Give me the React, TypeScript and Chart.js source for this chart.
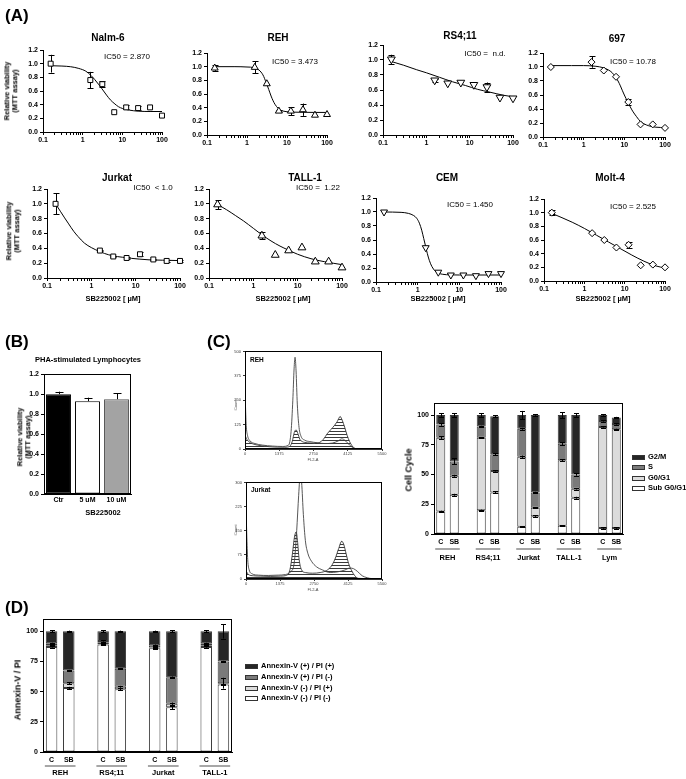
import React, { useEffect, useRef } from 'react';
import { Chart, registerables } from 'chart.js';
Chart.register(...registerables);

const FONT = '"Liberation Sans", Arial, Helvetica, sans-serif';

// ---------------- Panel A data ----------------
const doses = [0.156, 1.56, 3.125, 6.25, 12.5, 25, 50, 100];
const logTickValues = [0.1, 0.2, 0.3, 0.4, 0.5, 0.6, 0.7, 0.8, 0.9, 1, 2, 3, 4, 5, 6, 7, 8, 9, 10, 20, 30, 40, 50, 60, 70, 80, 90, 100];
const viabilityTicks = [0, 0.2, 0.4, 0.6, 0.8, 1.0, 1.2];

const nalm6Values = [1.0, 0.76, 0.70, 0.29, 0.36, 0.35, 0.36, 0.24];
const nalm6Errors = [0.13, 0.12, 0.04, 0, 0.03, 0.03, 0, 0];
const nalm6CurveX = [0.156, 0.3, 0.5, 0.8, 1.2, 1.6, 2, 2.5, 3, 4, 5, 6.5, 8, 10, 15, 25, 50, 100];
const nalm6CurveY = [0.97, 0.965, 0.955, 0.93, 0.89, 0.83, 0.77, 0.70, 0.64, 0.54, 0.47, 0.41, 0.37, 0.345, 0.32, 0.305, 0.30, 0.30];

const rehValues = [0.98, 0.99, 0.75, 0.35, 0.35, 0.37, 0.29, 0.30];
const rehErrors = [0.04, 0.09, 0, 0.02, 0.06, 0.09, 0, 0];
const rehCurveX = [0.156, 0.5, 1, 1.5, 2, 2.5, 3, 3.5, 4, 4.5, 5, 6, 7, 8, 10, 20, 100];
const rehCurveY = [1.0, 1.0, 0.995, 0.985, 0.95, 0.88, 0.77, 0.665, 0.57, 0.50, 0.45, 0.39, 0.36, 0.35, 0.34, 0.333, 0.33];

const rs411Values = [1.01, 0.73, 0.69, 0.70, 0.67, 0.64, 0.50, 0.49];
const rs411Errors = [0.06, 0.02, 0, 0, 0, 0.06, 0, 0];
const rs411CurveX = [0.156, 0.3, 0.6, 1, 2, 4, 8, 15, 30, 60, 100];
const rs411CurveY = [0.98, 0.93, 0.87, 0.83, 0.77, 0.71, 0.66, 0.61, 0.57, 0.53, 0.51];

const c697Values = [1.0, 1.07, 0.95, 0.86, 0.50, 0.18, 0.18, 0.13];
const c697Errors = [0, 0.08, 0, 0, 0.04, 0, 0, 0];
const c697CurveX = [0.156, 0.5, 1, 2, 3, 4, 5, 6, 7, 8, 9, 10, 11, 12.5, 14, 16, 20, 25, 30, 40, 60, 100];
const c697CurveY = [1.02, 1.02, 1.02, 1.01, 0.99, 0.96, 0.92, 0.86, 0.80, 0.73, 0.66, 0.60, 0.55, 0.49, 0.43, 0.37, 0.29, 0.22, 0.19, 0.16, 0.14, 0.135];

const jurkatValues = [1.0, 0.37, 0.29, 0.27, 0.32, 0.25, 0.23, 0.23];
const jurkatErrors = [0.14, 0.01, 0.01, 0.01, 0.03, 0.01, 0.01, 0.01];
const jurkatCurveX = [0.156, 0.2, 0.25, 0.3, 0.4, 0.5, 0.7, 1, 1.5, 2, 3, 5, 8, 12, 20, 40, 100];
const jurkatCurveY = [1.0, 0.90, 0.81, 0.74, 0.63, 0.56, 0.47, 0.41, 0.36, 0.33, 0.30, 0.28, 0.265, 0.255, 0.245, 0.24, 0.235];

const tall1Values = [0.99, 0.57, 0.31, 0.37, 0.41, 0.22, 0.22, 0.14];
const tall1Errors = [0.06, 0.05, 0, 0, 0, 0, 0, 0];
const tall1CurveX = [0.156, 0.25, 0.4, 0.6, 1, 1.5, 2.5, 4, 6, 10, 20, 40, 100];
const tall1CurveY = [0.99, 0.92, 0.84, 0.77, 0.67, 0.59, 0.50, 0.43, 0.38, 0.32, 0.26, 0.22, 0.18];

const cemValues = [1.0, 0.49, 0.14, 0.10, 0.10, 0.09, 0.12, 0.12];
const cemErrors = [0, 0, 0, 0, 0, 0, 0, 0];
const cemCurveX = [0.156, 0.4, 0.6, 0.8, 0.95, 1.1, 1.25, 1.4, 1.55, 1.7, 1.9, 2.2, 2.6, 3.2, 4, 6, 10, 100];
const cemCurveY = [1.0, 0.995, 0.98, 0.95, 0.91, 0.84, 0.74, 0.62, 0.51, 0.41, 0.31, 0.22, 0.16, 0.125, 0.11, 0.102, 0.10, 0.10];

const molt4Values = [1.0, 0.70, 0.60, 0.49, 0.53, 0.23, 0.24, 0.20];
const molt4Errors = [0.04, 0, 0, 0, 0.04, 0, 0, 0];
const molt4CurveX = [0.156, 0.5, 1, 2, 4, 8, 15, 30, 60, 100];
const molt4CurveY = [0.99, 0.86, 0.77, 0.67, 0.57, 0.47, 0.38, 0.29, 0.22, 0.19];

// ---------------- Panel B data ----------------
const phaLabels = ['Ctr', '5 uM', '10 uM'];
const phaValues = [1.0, 0.93, 0.95];
const phaErrors = [0.025, 0.035, 0.06];

// ---------------- Panel C histograms ----------------
const histXTicks = [0, 1375, 2750, 4125, 5500];
const rehCountTicks = [0, 125, 250, 375, 500];
const jurkatCountTicks = [0, 75, 150, 225, 300];

const rehCtrlX = [0, 50, 150, 300, 500, 800, 1200, 1600, 1800, 1900, 1980, 2050, 2120, 2200, 2300, 2500, 2800, 3000, 3150, 3300, 3450, 3600, 3700, 3820, 3900, 4000, 4100, 4200, 4300, 4400, 4600, 5500];
const rehCtrlY = [73, 55, 38, 27, 20, 14, 10, 9, 14, 40, 85, 98, 80, 50, 38, 32, 30, 34, 50, 78, 100, 122, 140, 166, 148, 112, 70, 38, 16, 4, 0, 0];
const rehTrtX = [0, 20, 50, 100, 200, 400, 700, 1100, 1500, 1750, 1850, 1920, 1970, 2010, 2050, 2100, 2170, 2250, 2400, 2600, 2900, 3200, 3500, 3750, 3880, 3950, 4050, 4200, 4350, 4500, 5500];
const rehTrtY = [320, 220, 120, 70, 42, 28, 20, 15, 13, 20, 90, 250, 410, 470, 400, 230, 110, 65, 45, 38, 32, 28, 30, 42, 52, 50, 40, 20, 6, 0, 0];

const jurCtrlX = [0, 100, 300, 600, 1000, 1400, 1650, 1780, 1880, 1960, 2030, 2080, 2150, 2250, 2400, 2700, 3000, 3250, 3450, 3600, 3750, 3870, 3950, 4050, 4150, 4280, 4400, 4550, 5500];
const jurCtrlY = [25, 14, 10, 9, 8, 9, 12, 30, 80, 130, 146, 120, 60, 28, 20, 18, 20, 26, 40, 62, 95, 117, 108, 78, 48, 25, 10, 2, 0];
const jurTrtX = [0, 30, 70, 130, 250, 500, 900, 1300, 1600, 1800, 1950, 2050, 2130, 2200, 2250, 2320, 2400, 2500, 2650, 2850, 3100, 3400, 3700, 4000, 4200, 4350, 4500, 4700, 4900, 5100, 5500];
const jurTrtY = [230, 140, 60, 28, 16, 12, 11, 12, 14, 22, 50, 150, 260, 330, 300, 200, 120, 80, 55, 38, 28, 20, 22, 28, 34, 32, 24, 10, 4, 1, 0];

// ---------------- Panel C cell cycle ----------------
const cellCycleSlots = ['C', 'SB', '', 'C', 'SB', '', 'C', 'SB', '', 'C', 'SB', '', 'C', 'SB'];
const cellCycleGroups = ['REH', 'RS4;11', 'Jurkat', 'TALL-1', 'Lym'];
const cellCycleTicks = [0, 25, 50, 75, 100];
const subG0G1 = [19, 33, null, 20, 35, null, 6, 15, null, 7, 30.5, null, 5, 5];
const g0G1 = [62, 16, null, 61, 18, null, 59, 7, null, 55, 7.5, null, 85, 83];
const sPhase = [11, 12, null, 9.5, 14, null, 23.5, 13, null, 14, 12, null, 5, 4.5];
const g2M = [8, 39, null, 9.5, 32, null, 11.5, 65, null, 24, 50, null, 5, 5.5];
const subG0G1Err = [0.6, 0.8, null, 0.5, 0.8, null, 0.5, 0.6, null, 0.5, 0.8, null, 0.6, 0.6];
const g0G1Err = [1, 0.8, null, 0.5, 0.5, null, 1, 0.5, null, 1, 0.6, null, 0.5, 0.5];
const sPhaseErr = [1, 2.5, null, 0.5, 0.8, null, 0.8, 0.5, null, 1.2, 1, null, 0.5, 0.5];
const g2MErr = [1.5, 1.5, null, 1.5, 0.8, null, 3.5, 0.6, null, 2.5, 1.5, null, 0.5, 0.5];

// ---------------- Panel D annexin ----------------
const annexinSlots = ['C', 'SB', '', 'C', 'SB', '', 'C', 'SB', '', 'C', 'SB'];
const annexinGroups = ['REH', 'RS4;11', 'Jurkat', 'TALL-1'];
const annexinTicks = [0, 25, 50, 75, 100];
const annNegPiNeg = [87, 53, null, 89, 52, null, 86, 37, null, 87, 56];
const annNegPiPos = [1.5, 4, null, 1.5, 2, null, 0.5, 3, null, 1.5, 1];
const annPosPiNeg = [1.5, 10.5, null, 1.5, 15, null, 2, 22, null, 1.5, 18];
const annPosPiPos = [10, 32.5, null, 8, 31, null, 11.5, 38, null, 10, 25];
const annNegPiNegErr = [0.5, 1, null, 0.5, 1, null, 0.5, 1.5, null, 0.5, 0.5];
const annNegPiPosErr = [0.5, 1, null, 0.5, 0.8, null, 0.3, 1, null, 0.5, 4.5];
const annPosPiNegErr = [0.5, 0.5, null, 0.5, 0.5, null, 0.5, 0.5, null, 0.5, 0.5];
const annPosPiPosErr = [1, 0.5, null, 1, 0.5, null, 0.5, 1, null, 0.8, 6];

// ---------------- helpers ----------------
type Box = { l: number; t: number; r: number; b: number };
type Margins = { ml: number; mt: number; mr: number; mb: number; pb?: number };

const tickFont = { family: FONT, size: 7, weight: 'bold' as const };

function makeErrorBars(phase: 'before' | 'after', cap: number, upOnly: boolean) {
  const draw = (chart: any) => {
    const ctx = chart.ctx;
    const ys = chart.scales.y;
    const ppu = Math.abs(ys.getPixelForValue(1) - ys.getPixelForValue(0));
    chart.data.datasets.forEach((ds: any, di: number) => {
      const errs = ds.errorBars;
      if (!errs) return;
      const meta = chart.getDatasetMeta(di);
      meta.data.forEach((el: any, i: number) => {
        const e = errs[i];
        if (!e || el.y == null || isNaN(el.y)) return;
        const x = Math.round(el.x) + 0.5;
        const y = el.y;
        const d = e * ppu;
        ctx.save();
        ctx.strokeStyle = '#000';
        ctx.lineWidth = 1;
        ctx.beginPath();
        ctx.moveTo(x, y - d);
        ctx.lineTo(x, upOnly ? y : y + d);
        ctx.moveTo(x - cap, Math.round(y - d) + 0.5);
        ctx.lineTo(x + cap, Math.round(y - d) + 0.5);
        if (!upOnly) {
          ctx.moveTo(x - cap, Math.round(y + d) + 0.5);
          ctx.lineTo(x + cap, Math.round(y + d) + 0.5);
        }
        ctx.stroke();
        ctx.restore();
      });
    });
  };
  return {
    id: 'errorBars' + phase,
    beforeDatasetsDraw(c: any) { if (phase === 'before') draw(c); },
    afterDatasetsDraw(c: any) { if (phase === 'after') draw(c); },
  };
}

const framePlugin = {
  id: 'frame',
  afterDraw(chart: any) {
    const { ctx, chartArea: a } = chart;
    ctx.save();
    ctx.strokeStyle = '#000';
    ctx.lineWidth = 1;
    const l = Math.round(a.left) + 0.5, t = Math.round(a.top) + 0.5;
    const r = Math.round(a.right) - 0.5, b = Math.round(a.bottom) - 0.5;
    ctx.strokeRect(l, t, r - l, b - t);
    ctx.restore();
  },
};

function groupPlugin(groups: string[], barPct: number, lineOff: number, textOff: number) {
  return {
    id: 'groups',
    afterDraw(chart: any) {
      const x = chart.scales.x;
      const ctx = chart.ctx;
      const a = chart.chartArea;
      const slot = x.getPixelForTick(1) - x.getPixelForTick(0);
      const bw = slot * barPct;
      groups.forEach((g, gi) => {
        const xl = x.getPixelForTick(gi * 3) - bw / 2 - 1;
        const xr = x.getPixelForTick(gi * 3 + 1) + bw / 2 + 1;
        ctx.save();
        ctx.strokeStyle = '#777';
        ctx.lineWidth = 1.3;
        ctx.beginPath();
        ctx.moveTo(xl, a.bottom + lineOff);
        ctx.lineTo(xr, a.bottom + lineOff);
        ctx.stroke();
        ctx.fillStyle = '#000';
        ctx.font = `bold 7.5px ${FONT}`;
        ctx.textAlign = 'center';
        ctx.textBaseline = 'middle';
        ctx.fillText(g, (xl + xr) / 2, a.bottom + textOff);
        ctx.restore();
      });
    },
  };
}

function baseOptions(m: Margins, scales: any) {
  return {
    responsive: false,
    maintainAspectRatio: false,
    animation: false,
    devicePixelRatio: 1,
    events: [],
    layout: { padding: { left: 0, top: m.mt, right: m.mr, bottom: m.pb || 0 } },
    plugins: { legend: { display: false }, tooltip: { enabled: false }, title: { display: false } },
    scales,
  };
}

function linY(tickVals: number[], min: number, max: number, width: number, fmt: (v: number) => string, stacked = false, font: any = tickFont, tickLen = 3, color = '#000') {
  return {
    type: 'linear',
    min, max, stacked,
    afterBuildTicks: (s: any) => { s.ticks = tickVals.map((v) => ({ value: v })); },
    afterFit: (s: any) => { s.width = width; },
    ticks: { font, color, padding: 2, callback: (v: any) => fmt(Number(v)) },
    grid: { drawOnChartArea: false, drawTicks: true, tickLength: tickLen, color },
    border: { display: true, color, width: 1 },
  };
}

const isPow10 = (v: number) => Math.abs(Math.log10(v) - Math.round(Math.log10(v))) < 1e-9;

function logX(height: number) {
  return {
    type: 'logarithmic',
    min: 0.1, max: 100,
    afterBuildTicks: (s: any) => { s.ticks = logTickValues.map((v) => ({ value: v, major: isPow10(v) })); },
    afterFit: (s: any) => { s.height = height; },
    ticks: { autoSkip: false, maxRotation: 0, minRotation: 0, font: tickFont, color: '#000', padding: 1, callback: (v: any) => (isPow10(Number(v)) ? String(Number(v)) : '') },
    grid: { drawOnChartArea: false, drawTicks: true, tickLength: 3, color: '#000' },
    border: { display: true, color: '#000', width: 1 },
  };
}

function ChartCanvas({ box, m, make }: { box: Box; m: Margins; make: (m: Margins) => any }) {
  const ref = useRef<HTMLCanvasElement>(null);
  const pb = m.pb || 0;
  const left = box.l - m.ml;
  const top = box.t - m.mt;
  const width = box.r - box.l + m.ml + m.mr;
  const height = box.b - box.t + m.mt + m.mb + pb;
  useEffect(() => {
    const chart = new Chart(ref.current as HTMLCanvasElement, make(m));
    return () => chart.destroy();
  }, []);
  return <canvas ref={ref} width={width} height={height} style={{ position: 'absolute', left, top, width, height }} />;
}

type DosePanel = {
  name: string; ic50: string; box: Box; values: number[]; errors: number[]; cx: number[]; cy: number[];
  marker: string; rot: number; r: number;
};

const doseMargins: Margins = { ml: 30, mt: 8, mr: 12, mb: 16 };

function doseConfig(p: DosePanel) {
  return (m: Margins) => ({
    type: 'scatter',
    data: {
      datasets: [
        {
          data: doses.map((d, i) => ({ x: d, y: p.values[i] })),
          showLine: false,
          pointStyle: p.marker,
          pointRotation: p.rot,
          pointRadius: p.r,
          pointBorderColor: '#000',
          pointBackgroundColor: '#fff',
          pointBorderWidth: 1,
          clip: 8,
          errorBars: p.errors,
        },
        {
          data: p.cx.map((x, i) => ({ x, y: p.cy[i] })),
          showLine: true,
          pointRadius: 0,
          borderColor: '#000',
          borderWidth: 1,
          cubicInterpolationMode: 'monotone',
          fill: false,
          clip: 4,
        },
      ],
    },
    options: baseOptions(m, {
      x: logX(m.mb),
      y: linY(viabilityTicks, 0, 1.2, m.ml, (v) => v.toFixed(1)),
    }),
    plugins: [makeErrorBars('before', 3, false)],
  });
}

const dosePanels: DosePanel[] = [
  { name: 'Nalm-6', ic50: 'IC50 = 2.870', box: { l: 43, t: 50, r: 162, b: 132 }, values: nalm6Values, errors: nalm6Errors, cx: nalm6CurveX, cy: nalm6CurveY, marker: 'rect', rot: 0, r: 3.5 },
  { name: 'REH', ic50: 'IC50 = 3.473', box: { l: 207, t: 53, r: 327, b: 135 }, values: rehValues, errors: rehErrors, cx: rehCurveX, cy: rehCurveY, marker: 'triangle', rot: 0, r: 4 },
  { name: 'RS4;11', ic50: 'IC50 =  n.d.', box: { l: 383, t: 45, r: 513, b: 135 }, values: rs411Values, errors: rs411Errors, cx: rs411CurveX, cy: rs411CurveY, marker: 'triangle', rot: 180, r: 4.5 },
  { name: '697', ic50: 'IC50 = 10.78', box: { l: 543, t: 53, r: 665, b: 137 }, values: c697Values, errors: c697Errors, cx: c697CurveX, cy: c697CurveY, marker: 'rectRot', rot: 0, r: 3.5 },
  { name: 'Jurkat', ic50: 'IC50  < 1.0', box: { l: 47, t: 189, r: 180, b: 278 }, values: jurkatValues, errors: jurkatErrors, cx: jurkatCurveX, cy: jurkatCurveY, marker: 'rect', rot: 0, r: 3.5 },
  { name: 'TALL-1', ic50: 'IC50 =  1.22', box: { l: 209, t: 189, r: 342, b: 278 }, values: tall1Values, errors: tall1Errors, cx: tall1CurveX, cy: tall1CurveY, marker: 'triangle', rot: 0, r: 4.5 },
  { name: 'CEM', ic50: 'IC50 = 1.450', box: { l: 376, t: 198, r: 501, b: 282 }, values: cemValues, errors: cemErrors, cx: cemCurveX, cy: cemCurveY, marker: 'triangle', rot: 180, r: 4 },
  { name: 'Molt-4', ic50: 'IC50 = 2.525', box: { l: 544, t: 199, r: 665, b: 281 }, values: molt4Values, errors: molt4Errors, cx: molt4CurveX, cy: molt4CurveY, marker: 'rectRot', rot: 0, r: 3.5 },
];

// title / IC50 text positions (centre points)
const doseTitlePos = [[108, 38], [278, 38], [460, 36], [617, 39], [117, 178], [305, 178], [447, 178], [610, 178]];
const doseIcPos = [[127, 57], [295, 62], [485, 54], [633, 62], [153, 188], [318, 188], [470, 205], [633, 207]];
const doseXTitlePos = [[113, 299], [283, 299], [438, 299], [603, 299]];

// ---- Panel B config ----
const phaBox: Box = { l: 44, t: 374, r: 131, b: 494 };
const phaMargins: Margins = { ml: 28, mt: 6, mr: 4, mb: 14 };
const phaConfig = (m: Margins) => ({
  type: 'bar',
  data: {
    labels: phaLabels,
    datasets: [{
      data: phaValues,
      backgroundColor: ['#000', '#fff', '#a3a3a3'],
      borderColor: ['#000', '#000', '#555'],
      borderWidth: 1,
      borderSkipped: false,
      barPercentage: 0.86,
      categoryPercentage: 1,
      errorBars: phaErrors,
    }],
  },
  options: baseOptions(m, {
    x: {
      type: 'category',
      afterFit: (s: any) => { s.height = m.mb; },
      ticks: { font: tickFont, color: '#000', padding: 2, maxRotation: 0, autoSkip: false },
      grid: { display: false, drawTicks: false },
      border: { display: true, color: '#000' },
    },
    y: linY(viabilityTicks, 0, 1.2, m.ml, (v) => v.toFixed(1)),
  }),
  plugins: [framePlugin, makeErrorBars('after', 4, true)],
});

// ---- Histogram configs ----
function hatchPattern(): any {
  const c = document.createElement('canvas');
  c.width = 4; c.height = 3;
  const g = c.getContext('2d') as CanvasRenderingContext2D;
  g.fillStyle = '#3a3a3a';
  g.fillRect(0, 0, 4, 1);
  return g.createPattern(c, 'repeat') || '#bbb';
}

const histMargins: Margins = { ml: 14, mt: 4, mr: 8, mb: 8 };
const histFont = { family: FONT, size: 4 };
function histConfig(ctrlX: number[], ctrlY: number[], trtX: number[], trtY: number[], yTicks: number[], yMax: number) {
  return (m: Margins) => ({
    type: 'scatter',
    data: {
      datasets: [
        {
          data: trtX.map((x, i) => ({ x, y: trtY[i] })),
          showLine: true, pointRadius: 0, borderColor: '#444', borderWidth: 0.9,
          cubicInterpolationMode: 'monotone', fill: false,
        },
        {
          data: ctrlX.map((x, i) => ({ x, y: ctrlY[i] })),
          showLine: true, pointRadius: 0, borderColor: '#333', borderWidth: 0.9,
          cubicInterpolationMode: 'monotone', fill: 'origin', backgroundColor: hatchPattern(),
        },
      ],
    },
    options: baseOptions(m, {
      x: {
        type: 'linear', min: 0, max: 5500,
        afterBuildTicks: (s: any) => { s.ticks = histXTicks.map((v) => ({ value: v })); },
        afterFit: (s: any) => { s.height = m.mb; },
        ticks: { font: histFont, color: '#444', padding: 0, maxRotation: 0, autoSkip: false, callback: (v: any) => String(v) },
        grid: { drawOnChartArea: false, drawTicks: true, tickLength: 2, color: '#333' },
        border: { display: true, color: '#333' },
      },
      y: linY(yTicks, 0, yMax, m.ml, (v) => String(v), false, { ...histFont }, 2, '#333'),
    }),
    plugins: [framePlugin],
  });
}

// ---- Stacked bar configs ----
const cellBox: Box = { l: 434, t: 403, r: 623, b: 534 };
const cellMargins: Margins = { ml: 24, mt: 6, mr: 6, mb: 12, pb: 22 };
const annexBox: Box = { l: 43, t: 619, r: 232, b: 752 };
const annexMargins: Margins = { ml: 26, mt: 6, mr: 6, mb: 11, pb: 16 };

const SEG_DARK = '#262626', SEG_MID = '#7a7a7a', SEG_LIGHT = '#dcdcdc', SEG_WHITE = '#ffffff';

function stackedConfig(labels: string[], series: { data: (number | null)[]; err: (number | null)[]; color: string }[], groups: string[], ticks: number[], lineOff: number, textOff: number, labelPad: number) {
  return (m: Margins) => ({
    type: 'bar',
    data: {
      labels,
      datasets: series.map((s) => ({
        data: s.data,
        backgroundColor: s.color,
        borderColor: '#3a3a3a',
        borderWidth: 1,
        borderSkipped: false,
        barPercentage: 0.67,
        categoryPercentage: 1,
        errorBars: s.err,
      })),
    },
    options: baseOptions(m, {
      x: {
        type: 'category', stacked: true,
        afterFit: (s: any) => { s.height = m.mb; },
        ticks: { font: tickFont, color: '#000', padding: labelPad, maxRotation: 0, autoSkip: false },
        grid: { display: false, drawTicks: false },
        border: { display: true, color: '#000' },
      },
      y: linY(ticks, 0, 110, m.ml, (v) => String(v), true),
    }),
    plugins: [framePlugin, makeErrorBars('after', 2.5, false), groupPlugin(groups, 0.67, lineOff, textOff)],
  });
}

const cellConfig = stackedConfig(cellCycleSlots, [
  { data: subG0G1, err: subG0G1Err, color: SEG_WHITE },
  { data: g0G1, err: g0G1Err, color: SEG_LIGHT },
  { data: sPhase, err: sPhaseErr, color: SEG_MID },
  { data: g2M, err: g2MErr, color: SEG_DARK },
], cellCycleGroups, cellCycleTicks, 15, 24, 4);

const annexConfig = stackedConfig(annexinSlots, [
  { data: annNegPiNeg, err: annNegPiNegErr, color: SEG_WHITE },
  { data: annNegPiPos, err: annNegPiPosErr, color: SEG_LIGHT },
  { data: annPosPiNeg, err: annPosPiNegErr, color: SEG_MID },
  { data: annPosPiPos, err: annPosPiPosErr, color: SEG_DARK },
], annexinGroups, annexinTicks, 14, 21, 3.5);

// ---------------- text helpers ----------------
function T({ x, y, s, b = true, rot = false, align = 'center', color = '#000', children }: any) {
  const tx = align === 'center' ? '-50%' : align === 'left' ? '0' : '-100%';
  return (
    <div style={{
      position: 'absolute', left: x, top: y,
      transform: `translate(${tx},-50%)${rot ? ' rotate(-90deg)' : ''}`,
      willChange: 'transform',
      fontSize: s, fontWeight: b ? 700 : 400, lineHeight: 1, whiteSpace: 'pre', color, fontFamily: FONT,
    }}>{children}</div>
  );
}

function LegendItem({ x, y, color, label }: { x: number; y: number; color: string; label: string }) {
  return (
    <>
      <div style={{ position: 'absolute', left: x, top: y - 2.5, width: 13, height: 5, background: color, border: '1px solid #333', boxSizing: 'border-box' }} />
      <T x={x + 16} y={y} s={7.5} align="left">{label}</T>
    </>
  );
}

export default function App() {
  return (
    <div style={{ position: 'fixed', left: 0, top: 0, width: 686, height: 779, background: '#fff', overflow: 'hidden', fontFamily: FONT }}>
      {dosePanels.map((p) => (
        <ChartCanvas key={p.name} box={p.box} m={doseMargins} make={doseConfig(p)} />
      ))}
      <ChartCanvas box={phaBox} m={phaMargins} make={phaConfig} />
      <ChartCanvas box={{ l: 245, t: 351, r: 382, b: 449 }} m={histMargins} make={histConfig(rehCtrlX, rehCtrlY, rehTrtX, rehTrtY, rehCountTicks, 500)} />
      <ChartCanvas box={{ l: 246, t: 482, r: 382, b: 579 }} m={histMargins} make={histConfig(jurCtrlX, jurCtrlY, jurTrtX, jurTrtY, jurkatCountTicks, 300)} />
      <ChartCanvas box={cellBox} m={cellMargins} make={cellConfig} />
      <ChartCanvas box={annexBox} m={annexMargins} make={annexConfig} />

      {/* Panel labels */}
      <T x={5} y={15} s={17} align="left">(A)</T>
      <T x={5} y={341} s={17} align="left">(B)</T>
      <T x={207} y={341} s={17} align="left">(C)</T>
      <T x={5} y={607} s={17} align="left">(D)</T>

      {/* Panel A texts */}
      {dosePanels.map((p, i) => (
        <React.Fragment key={'t' + i}>
          <T x={doseTitlePos[i][0]} y={doseTitlePos[i][1]} s={10}>{p.name}</T>
          <T x={doseIcPos[i][0]} y={doseIcPos[i][1]} s={8} b={false}>{p.ic50}</T>
        </React.Fragment>
      ))}
      {doseXTitlePos.map((pos, i) => (
        <T key={'xt' + i} x={pos[0]} y={pos[1]} s={7.5}>SB225002 [ µM]</T>
      ))}
      <T x={7} y={91} s={7.5} rot>Relative viability</T>
      <T x={15} y={91} s={7.5} rot>(MTT assay)</T>
      <T x={9} y={231} s={7.5} rot>Relative viability</T>
      <T x={17} y={231} s={7.5} rot>(MTT assay)</T>

      {/* Panel B texts */}
      <T x={88} y={360} s={7.5}>PHA-stimulated Lymphocytes</T>
      <T x={20} y={437} s={7.5} rot>Relative viability</T>
      <T x={28} y={437} s={7.5} rot>(MTT assay)</T>
      <T x={103} y={513} s={7.5}>SB225002</T>

      {/* Histogram texts */}
      <T x={250} y={360} s={6.5} align="left">REH</T>
      <T x={251} y={490} s={6.5} align="left">Jurkat</T>
      <T x={236} y={405} s={4} b={false} rot color="#444">Count</T>
      <T x={236} y={530} s={4} b={false} rot color="#444">Count</T>
      <T x={313} y={460} s={4} b={false} color="#444">FL2-A</T>
      <T x={313} y={590} s={4} b={false} color="#444">FL2-A</T>

      {/* Cell cycle texts */}
      <T x={409} y={470} s={9} rot>Cell Cycle</T>
      <LegendItem x={632} y={457} color={SEG_DARK} label="G2/M" />
      <LegendItem x={632} y={467} color={SEG_MID} label="S" />
      <LegendItem x={632} y={478} color={SEG_LIGHT} label="G0/G1" />
      <LegendItem x={632} y={488} color={SEG_WHITE} label="Sub G0/G1" />

      {/* Annexin texts */}
      <T x={18} y={690} s={9} rot>Annexin-V / PI</T>
      <LegendItem x={245} y={666} color={SEG_DARK} label="Annexin-V (+) / PI (+)" />
      <LegendItem x={245} y={677} color={SEG_MID} label="Annexin-V (+) / PI (-)" />
      <LegendItem x={245} y={688} color={SEG_LIGHT} label="Annexin-V (-) / PI (+)" />
      <LegendItem x={245} y={698} color={SEG_WHITE} label="Annexin-V (-) / PI (-)" />
    </div>
  );
}
